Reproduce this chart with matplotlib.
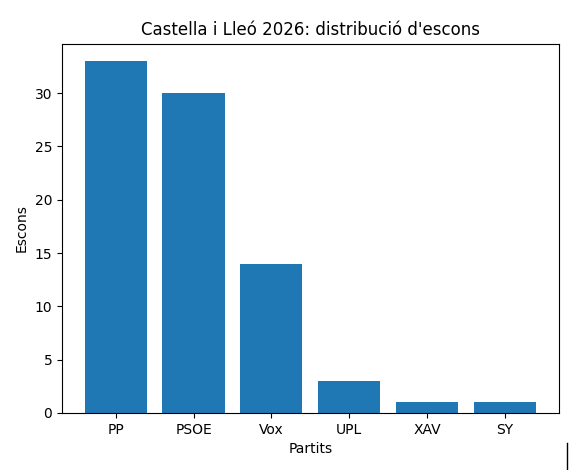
import matplotlib
matplotlib.use('Agg')
import matplotlib.pyplot as plt
from matplotlib.lines import Line2D

# Dades
partits = ['PP', 'PSOE', 'Vox', 'UPL', 'XAV', 'SY']
escons = [33, 30, 14, 3, 1, 1]

fig = plt.figure(figsize=(5.77, 4.70), dpi=100)
ax = fig.add_axes([62 / 577, 57 / 470, 496.5 / 577, 369.5 / 470])

ax.bar(partits, escons, color='#1f77b4')
ax.set_xlabel('Partits')
ax.set_ylabel('Escons')
ax.set_title("Castella i Lleó 2026: distribució d'escons")

# petita línia vertical a la cantonada inferior dreta
fig.add_artist(Line2D([567 / 577, 567 / 577], [0, 27 / 470], color='black', linewidth=1))

fig.savefig('out.png', dpi=100)
